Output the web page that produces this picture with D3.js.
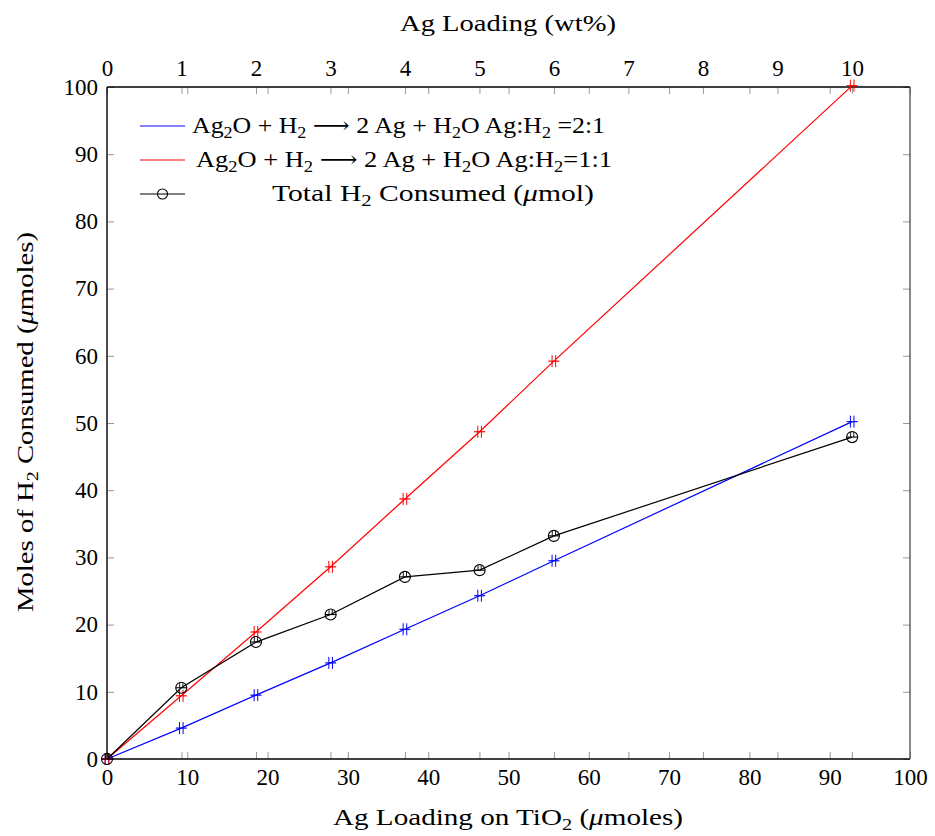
<!DOCTYPE html>
<html><head><meta charset="utf-8">
<script src="https://cdn.jsdelivr.net/npm/d3@7"></script>
<style>
body{margin:0;background:#fff;}
text{font-family:"Liberation Serif","DejaVu Serif",serif;fill:#000;}
</style></head>
<body><svg id="c" width="935" height="836"></svg>
<script>
const xLoading = [0, 9.25, 18.55, 27.85, 37.1, 46.4, 55.65, 92.8];
const blueVals = [0, 4.6, 9.5, 14.3, 19.3, 24.3, 29.5, 50.2];
const redVals = [0, 9.4, 18.9, 28.6, 38.7, 48.7, 59.2, 100.2];
const totalVals = [0, 10.6, 17.4, 21.5, 27.1, 28.1, 33.2, 47.9];
const bottomTicks = [0,10,20,30,40,50,60,70,80,90,100];
const topTicks = [0,1,2,3,4,5,6,7,8,9,10];
const yTicks = [0,10,20,30,40,50,60,70,80,90,100];

const L=107,R=910,T=87,B=759;
const svg=d3.select("#c");
const x=d3.scaleLinear().domain([0,100]).range([L,R]);
const xTop=d3.scaleLinear().domain([0,10.78]).range([L,R]);
const y=d3.scaleLinear().domain([0,100]).range([B,T]);

function styleAxis(g){
  g.select(".domain").remove();
  g.selectAll(".tick line").attr("stroke","#999").attr("stroke-width",1);
  g.selectAll(".tick text").attr("font-size",23).attr("font-family","Liberation Serif, serif");
  g.selectAll(".tick text").filter(function(){return this.textContent==="";}).remove();
}
svg.append("g").attr("transform",`translate(0,${B})`)
  .call(d3.axisBottom(x).tickValues(bottomTicks).tickSizeInner(-7).tickSizeOuter(0).tickPadding(10)).call(styleAxis);
svg.append("g").attr("transform",`translate(0,${T})`)
  .call(d3.axisTop(x).tickValues(bottomTicks).tickSizeInner(-7).tickSizeOuter(0).tickFormat("")).call(styleAxis);
svg.append("g").attr("transform",`translate(0,${T})`)
  .call(d3.axisTop(xTop).tickValues(topTicks).tickSizeInner(-7).tickSizeOuter(0).tickPadding(11)).call(styleAxis);
svg.append("g").attr("transform",`translate(0,${B})`)
  .call(d3.axisBottom(xTop).tickValues(topTicks).tickSizeInner(-7).tickSizeOuter(0).tickFormat("")).call(styleAxis);
svg.append("g").attr("transform",`translate(${L},0)`)
  .call(d3.axisLeft(y).tickValues(yTicks).tickSizeInner(-7).tickSizeOuter(0).tickPadding(9)).call(styleAxis);
svg.append("g").attr("transform",`translate(${R},0)`)
  .call(d3.axisRight(y).tickValues(yTicks).tickSizeInner(-7).tickSizeOuter(0).tickFormat("")).call(styleAxis);

svg.append("line").attr("x1",L).attr("x2",R).attr("y1",T).attr("y2",T).attr("stroke","#000").attr("stroke-width",1.6);
svg.append("line").attr("x1",L).attr("x2",R).attr("y1",B).attr("y2",B).attr("stroke","#000").attr("stroke-width",1.6);
svg.append("line").attr("x1",L).attr("x2",L).attr("y1",T).attr("y2",B).attr("stroke","#000").attr("stroke-width",1.4);
svg.append("line").attr("x1",R).attr("x2",R).attr("y1",T).attr("y2",B).attr("stroke","#555").attr("stroke-width",1.4);

const line=d3.line().x(d=>x(d[0])).y(d=>y(d[1]));
function series(vals,color,marker){
  const pts=xLoading.map((v,i)=>[v,vals[i]]);
  svg.append("path").datum(pts).attr("d",line).attr("fill","none").attr("stroke",color).attr("stroke-width",1.2);
  const g=svg.append("g");
  pts.forEach(p=>{
    const cx=x(p[0]),cy=y(p[1]);
    if(marker==="plus"){
      g.append("line").attr("x1",cx-5.5).attr("x2",cx+5.5).attr("y1",cy).attr("y2",cy).attr("stroke",color).attr("stroke-width",1.2);
      g.append("line").attr("x1",cx-1.8).attr("x2",cx-1.8).attr("y1",cy-6).attr("y2",cy+6).attr("stroke",color).attr("stroke-width",1);
      g.append("line").attr("x1",cx+1.8).attr("x2",cx+1.8).attr("y1",cy-6).attr("y2",cy+6).attr("stroke",color).attr("stroke-width",1);
    } else {
      g.append("circle").attr("cx",cx).attr("cy",cy).attr("r",5.5).attr("fill","none").attr("stroke",color).attr("stroke-width",1.1);
      g.append("line").attr("x1",cx-5.5).attr("x2",cx+5.5).attr("y1",cy).attr("y2",cy).attr("stroke",color).attr("stroke-width",1.1);
      g.append("line").attr("x1",cx-1.6).attr("x2",cx-1.6).attr("y1",cy-5).attr("y2",cy).attr("stroke",color).attr("stroke-width",0.9);
      g.append("line").attr("x1",cx+1.6).attr("x2",cx+1.6).attr("y1",cy-5).attr("y2",cy).attr("stroke",color).attr("stroke-width",0.9);
    }
  });
}
series(blueVals,"#0000ff","plus");
series(redVals,"#ff0000","plus");
series(totalVals,"#000000","circle");

function rich(g,xp,yp,parts,anchor,size,len){
  const t=g.append("text").attr("x",xp).attr("y",yp).attr("font-size",size).attr("text-anchor",anchor);
  if(len) t.attr("textLength",len).attr("lengthAdjust","spacingAndGlyphs");
  let shift=0;
  parts.forEach(p=>{
    let s;
    if(typeof p==="string"){ s=t.append("tspan").text(p); }
    else if(p.sub){ s=t.append("tspan").attr("font-size",size*0.7).text(p.sub); s.attr("dy",5+shift); shift=-5; return; }
    else if(p.it){ s=t.append("tspan").attr("font-style","italic").text(p.it); }
    if(shift){ s.attr("dy",shift); shift=0; }
  });
  return t;
}
const legend=[
  {color:"#0000ff",marker:false,x0:192,len:413,parts:["Ag",{sub:"2"},"O + H",{sub:"2"}," \u27F6 2 Ag + H",{sub:"2"},"O Ag:H",{sub:"2"}," =2:1"]},
  {color:"#ff0000",marker:false,x0:196,len:416,parts:["Ag",{sub:"2"},"O + H",{sub:"2"}," \u27F6 2 Ag + H",{sub:"2"},"O Ag:H",{sub:"2"},"=1:1"]},
  {color:"#000000",marker:true,x0:272,len:322,parts:["Total H",{sub:"2"}," Consumed (",{it:"\u03BC"},"mol)"]}
];
legend.forEach((d,i)=>{
  const ly=126+i*34;
  svg.append("line").attr("x1",140).attr("x2",185).attr("y1",ly).attr("y2",ly).attr("stroke",d.color).attr("stroke-width",1.2);
  if(d.marker){
    svg.append("circle").attr("cx",162.5).attr("cy",ly).attr("r",5).attr("fill","none").attr("stroke","#000").attr("stroke-width",1.1);
  }
  rich(svg,d.x0,ly+7,d.parts,"start",23,d.len);
});

rich(svg,333,825,["Ag Loading on TiO",{sub:"2"}," (",{it:"\u03BC"},"moles)"],"start",23,350);
svg.append("text").attr("x",400).attr("y",31).attr("font-size",23).attr("textLength",216).attr("lengthAdjust","spacingAndGlyphs").text("Ag Loading (wt%)");
const yl=svg.append("g").attr("transform","translate(33,612) rotate(-90)");
rich(yl,0,0,["Moles of H",{sub:"2"}," Consumed (",{it:"\u03BC"},"moles)"],"start",23,380);
</script></body></html>
